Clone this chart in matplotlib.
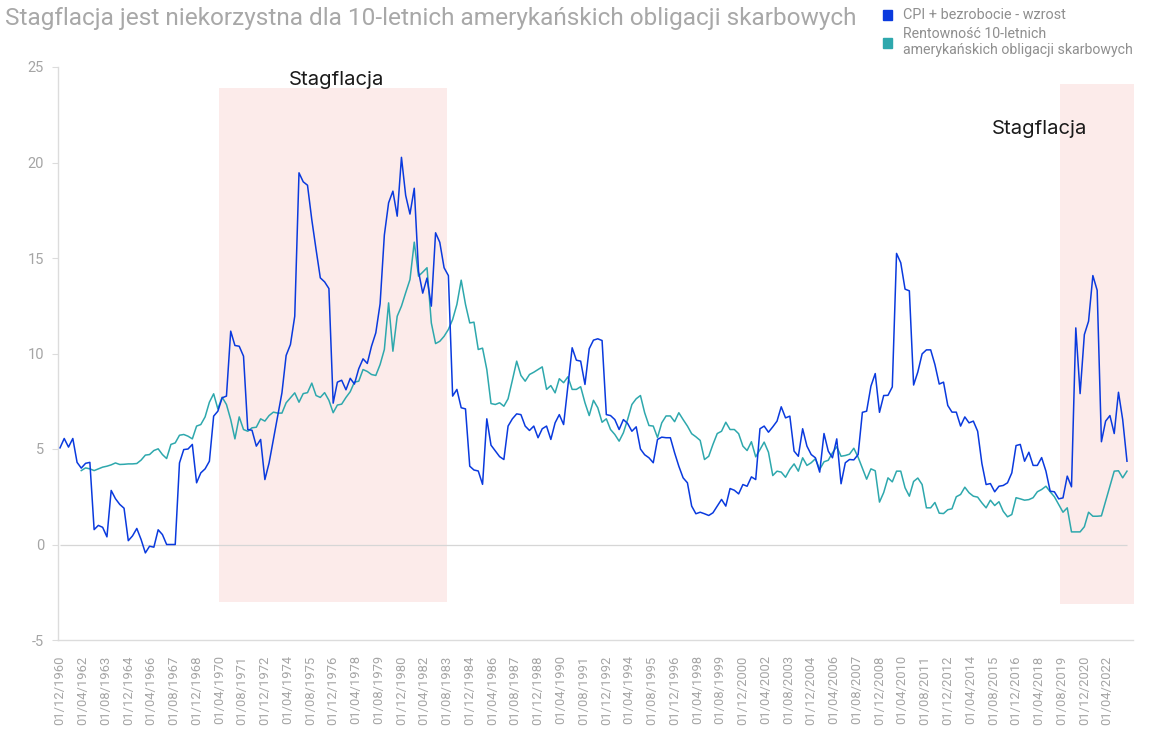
import numpy as np
import pandas as pd
import matplotlib
matplotlib.use("Agg")
import matplotlib.pyplot as plt
import matplotlib.dates as mdates
from matplotlib.patches import Rectangle

plt.rcParams["font.family"] = ["Roboto", "DejaVu Sans"]
plt.rcParams["axes.unicode_minus"] = False

# quarterly observations, Dec 1960 onwards
dates = pd.date_range("1960-12-01", periods=251, freq="3MS")

cpi_unemp = [
    5.06, 5.55, 5.1, 5.55, 4.3, 4.0, 4.25, 4.3, 0.78, 1.0,
    0.9, 0.4, 2.83, 2.4, 2.1, 1.9, 0.2, 0.45, 0.84, 0.26,
    -0.44, -0.09, -0.14, 0.77, 0.52, 0.0, 0.0, 0.0, 4.27, 4.97,
    5.0, 5.24, 3.23, 3.75, 3.96, 4.36, 6.72, 6.98, 7.68, 7.77,
    11.17, 10.42, 10.38, 9.86, 6.02, 5.98, 5.15, 5.5, 3.4, 4.27,
    5.5, 6.7, 7.94, 9.9, 10.47, 11.95, 19.46, 18.99, 18.81, 17.0,
    15.45, 13.96, 13.75, 13.4, 7.4, 8.5, 8.6, 8.1, 8.7, 8.4,
    9.2, 9.72, 9.48, 10.38, 11.08, 12.6, 16.2, 17.89, 18.5, 17.19,
    20.27, 18.28, 17.3, 18.65, 14.3, 13.16, 13.95, 12.48, 16.32, 15.82,
    14.49, 14.08, 7.77, 8.12, 7.16, 7.1, 4.1, 3.9, 3.85, 3.15,
    6.58, 5.2, 4.9, 4.6, 4.45, 6.2, 6.58, 6.84, 6.8, 6.2,
    5.97, 6.2, 5.59, 6.06, 6.2, 5.5, 6.37, 6.8, 6.28, 8.29,
    10.3, 9.65, 9.6, 8.38, 10.25, 10.7, 10.77, 10.68, 6.8, 6.75,
    6.54, 6.02, 6.54, 6.34, 5.93, 6.16, 5.0, 4.7, 4.54, 4.28,
    5.5, 5.62, 5.59, 5.59, 4.8, 4.1, 3.49, 3.23, 2.01, 1.61,
    1.69, 1.61, 1.52, 1.66, 2.01, 2.36, 2.01, 2.93, 2.84, 2.65,
    3.14, 3.05, 3.54, 3.4, 6.06, 6.2, 5.88, 6.16, 6.46, 7.21,
    6.63, 6.72, 4.89, 4.62, 6.06, 5.15, 4.71, 4.54, 3.79, 5.81,
    4.89, 4.54, 5.53, 3.18, 4.28, 4.45, 4.43, 4.71, 6.92, 6.98,
    8.29, 8.95, 6.92, 7.8, 7.81, 8.25, 15.24, 14.75, 13.37, 13.28,
    8.35, 9.03, 9.98, 10.19, 10.19, 9.42, 8.4, 8.5, 7.28, 6.93,
    6.93, 6.2, 6.68, 6.37, 6.46, 5.93, 4.24, 3.14, 3.19, 2.76,
    3.05, 3.09, 3.23, 3.75, 5.18, 5.24, 4.36, 4.83, 4.14, 4.14,
    4.55, 3.84, 2.79, 2.76, 2.39, 2.44, 3.58, 3.02, 11.34, 7.9,
    10.99, 11.69, 14.08, 13.31, 5.38, 6.46, 6.75, 5.81, 7.97, 6.54,
    4.36,
]

# 10y treasury yield starts five quarters later (Mar 1962)
yield_start = 5
treasury_10y = [
    3.87, 4.01, 3.96, 3.87, 3.96,
    4.05, 4.1, 4.17, 4.27, 4.19, 4.2, 4.22, 4.22, 4.24, 4.42,
    4.68, 4.71, 4.92, 5.01, 4.71, 4.5, 5.24, 5.32, 5.72, 5.76,
    5.67, 5.53, 6.2, 6.28, 6.68, 7.45, 7.89, 7.1, 7.71, 7.33,
    6.54, 5.53, 6.68, 6.02, 5.93, 6.11, 6.14, 6.58, 6.46, 6.75,
    6.93, 6.88, 6.88, 7.42, 7.68, 7.94, 7.45, 7.9, 7.95, 8.45,
    7.8, 7.7, 7.95, 7.55, 6.9, 7.3, 7.35, 7.7, 8.0, 8.5,
    8.55, 9.16, 9.06, 8.9, 8.85, 9.42, 10.21, 12.65, 10.12, 11.95,
    12.48, 13.18, 13.87, 15.83, 14.05, 14.26, 14.49, 11.6, 10.52, 10.64,
    10.9, 11.26, 11.78, 12.57, 13.84, 12.57, 11.6, 11.64, 10.21, 10.28,
    9.16, 7.38, 7.33, 7.42, 7.24, 7.63, 8.6, 9.6, 8.85, 8.55,
    8.9, 9.02, 9.16, 9.3, 8.12, 8.32, 7.94, 8.68, 8.47, 8.78,
    8.12, 8.12, 8.26, 7.42, 6.75, 7.55, 7.16, 6.4, 6.58, 6.02,
    5.76, 5.41, 5.85, 6.54, 7.33, 7.63, 7.8, 6.9, 6.23, 6.2,
    5.6, 6.37, 6.73, 6.73, 6.43, 6.9, 6.54, 6.2, 5.8, 5.64,
    5.45, 4.45, 4.62, 5.24, 5.81, 5.93, 6.4, 6.02, 6.02, 5.8,
    5.15, 4.92, 5.38, 4.59, 4.97, 5.36, 4.83, 3.61, 3.84, 3.79,
    3.52, 3.93, 4.22, 3.84, 4.54, 4.14, 4.28, 4.49, 3.93, 4.33,
    4.41, 4.8, 5.12, 4.62, 4.66, 4.73, 5.04, 4.57, 3.99, 3.42,
    3.96, 3.86, 2.22, 2.72, 3.49, 3.28, 3.84, 3.84, 2.97, 2.53,
    3.3, 3.48, 3.14, 1.92, 1.92, 2.2, 1.64, 1.62, 1.82, 1.87,
    2.5, 2.62, 3.0, 2.71, 2.53, 2.48, 2.18, 1.92, 2.32, 2.04,
    2.24, 1.74, 1.45, 1.57, 2.45, 2.39, 2.32, 2.35, 2.45, 2.76,
    2.88, 3.05, 2.76, 2.5, 2.09, 1.69, 1.92, 0.66, 0.66, 0.66,
    0.93, 1.69, 1.48, 1.48, 1.5, 2.27, 3.05, 3.84, 3.86, 3.49,
    3.84,
]

# stagflation periods (start, end, bottom, top)
stag_periods = [
    ("1970-03-25", "1983-08-01", -3.0, 23.9),
    ("2019-06-28", "2023-10-25", -3.1, 24.1),
]
stag_labels = [("1977-02-12", 24.3), ("2018-04-25", 21.75)]

tick_dates = pd.date_range("1960-12-01", "2022-04-01", freq="16MS")

BLUE = "#0a3ade"
TEAL = "#2ea8ad"
GREY = "#a5a5a5"

fig = plt.figure(figsize=(11.53, 7.35), dpi=100)
ax = fig.add_axes([58 / 1153, 95 / 735, 1075 / 1153, 573 / 735])

x = mdates.date2num(dates)
quarter = 91.31
for start, end, lo, hi in stag_periods:
    x0, x1 = mdates.date2num(pd.Timestamp(start)), mdates.date2num(pd.Timestamp(end))
    ax.add_patch(Rectangle((x0, lo), x1 - x0, hi - lo, facecolor="#fcebea",
                           edgecolor="none", zorder=0, clip_on=False))
for d, yv in stag_labels:
    ax.text(mdates.date2num(pd.Timestamp(d)), yv, "Stagflacja", ha="center",
            va="center", fontsize=14.6, color="#1a1a1a", family=["Inter", "DejaVu Sans"])

ax.hlines(0, x[0], x[-1], color="#d6d6d6", lw=0.9, zorder=1)
ax.plot(x, cpi_unemp, color=BLUE, lw=1.1, zorder=3)
ax.plot(x[yield_start:], treasury_10y, color=TEAL, lw=1.1, zorder=2)

ax.set_ylim(-5, 25)
ax.set_yticks(range(-5, 30, 5))
# 4.268 px per quarter, first point 2 px right of the y axis
ax.set_xlim(x[0] - 0.47 * quarter, x[0] + (1075 / 4.268 - 0.47) * quarter)
ax.set_xticks(mdates.date2num(tick_dates))
ax.set_xticklabels([d.strftime("%d/%m/%Y") for d in tick_dates], rotation=90)

for side in ("top", "right"):
    ax.spines[side].set_visible(False)
for side in ("left", "bottom"):
    ax.spines[side].set_color("#dcdcdc")
    ax.spines[side].set_linewidth(1.0)
ax.tick_params(axis="y", colors="#dcdcdc", labelcolor=GREY, labelsize=10.5, length=4, pad=6)
ax.tick_params(axis="x", length=0, labelcolor=GREY, labelsize=9.4, pad=11)

fig.text(0.004, 1 - 18 / 735, "Stagflacja jest niekorzystna dla 10-letnich amerykańskich obligacji skarbowych",
         fontsize=17.6, color="#a8a8a8", va="center", ha="left")

# legend drawn by hand
fig.add_artist(Rectangle((883 / 1153, 1 - 20 / 735), 9 / 1153, 10 / 735,
                         transform=fig.transFigure, color=BLUE))
fig.add_artist(Rectangle((883 / 1153, 1 - 48 / 735), 9 / 1153, 10 / 735,
                         transform=fig.transFigure, color=TEAL))
fig.text(903 / 1153, 1 - 15 / 735, "CPI + bezrobocie - wzrost", fontsize=10.4,
         color="#8f8f8f", va="center")
fig.text(903 / 1153, 1 - 42 / 735, "Rentowność 10-letnich\namerykańskich obligacji skarbowych",
         fontsize=10.2, color="#8f8f8f", va="center", linespacing=1.1)

fig.savefig("out.png", dpi=100)
